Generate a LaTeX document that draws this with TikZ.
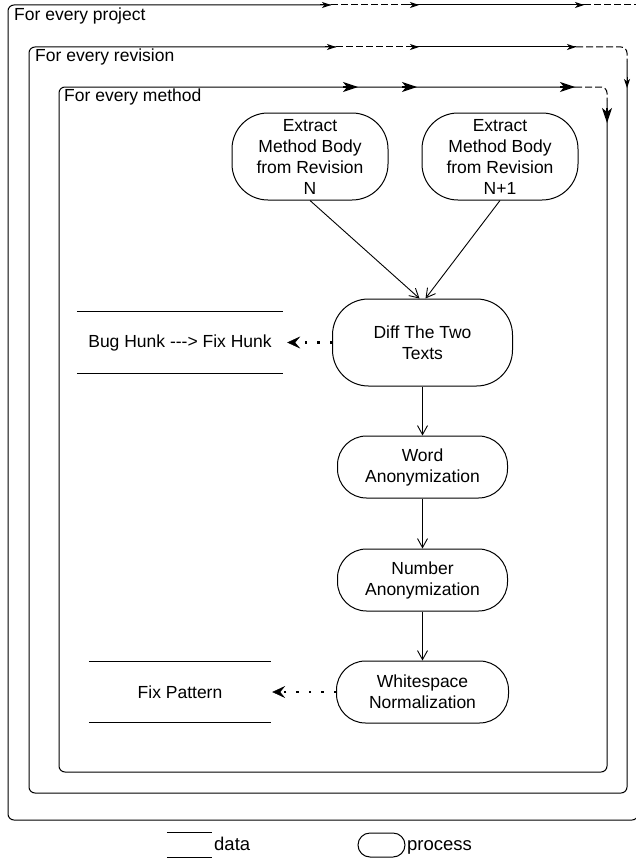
\documentclass[tikz,border=0pt]{standalone}
\usepackage{fontspec}
\setmainfont{Liberation Sans}
\usetikzlibrary{arrows.meta}
\begin{document}
\begin{tikzpicture}[x=1pt,y=-1pt,
  every node/.style={font=\fontsize{17.5}{21}\selectfont, inner sep=0pt},
  proc/.style={draw, line width=1pt, rounded corners=29pt, align=center},
  tallproc/.style={proc, rounded corners=36pt},
  frame/.style={line width=1pt, rounded corners=6pt},
  sol/.style={line width=1pt},
  dsh/.style={line width=1pt, dash pattern=on 7pt off 3pt},
  flow/.style={line width=0.9pt, -{Straight Barb[length=9pt,width=10pt]}},
  dotarr/.style={line width=2.4pt, dash pattern=on 2.4pt off 10pt, -{Stealth[length=13pt,width=12pt,inset=5pt,line width=0.5pt]}},
  tipS/.style={line width=1pt, -{Stealth[length=9pt,width=6pt,inset=2.5pt]}},
  tipB/.style={line width=1.3pt, -{Stealth[length=15pt,width=10pt,inset=4pt]}},
]
\useasboundingbox (0,0) rectangle (636,859);

% ---- project frame
\draw[frame] (331,5) -| (8,820) -| (638,5);
\draw[dsh] (331,5) -- (412,5);
\draw[sol] (412,5) -- (584,5);
\draw[dsh] (584,5) -- (638,5);
\draw[tipS] (320,5) -- (331,5);
\draw[tipS] (408,5) -- (419,5);
\draw[tipS] (573,5) -- (584,5);
\node[anchor=base west] (lp) at (14,21) {For every project};

% ---- revision frame
\draw[frame] (336,47) -| (29,793) -| (627,62);
\draw[dsh] (336,47) -- (413,47);
\draw[sol] (413,47) -- (576,47);
\draw[dsh, rounded corners=6pt] (576,47) -| (627,62);
\draw[tipS] (325,47) -- (336,47);
\draw[tipS] (408,47) -- (419,47);
\draw[tipS] (565,47) -- (576,47);
\draw[tipS] (627,77) -- (627,88);
\node[anchor=base west] (lr) at (35,62) {For every revision};

% ---- method frame
\draw[frame] (575,87) -| (59,772) -| (607,100);
\draw[dsh, rounded corners=6pt] (575,87) -| (607,100);
\draw[tipB] (343,87) -- (358,87);
\draw[tipB] (402,87) -- (417,87);
\draw[tipB] (560,87) -- (575,87);
\draw[tipB] (607,108) -- (607,123);
\node[anchor=base west] (lm) at (64,101) {For every method};

% ---- process nodes
\node[tallproc, minimum width=156pt, minimum height=87pt] (exN) at (310,156.5) {Extract\\Method Body\\from Revision\\N};
\node[tallproc, minimum width=156pt, minimum height=87pt] (exN1) at (500,156.5) {Extract\\Method Body\\from Revision\\N+1};
\node[tallproc, minimum width=180pt, minimum height=87pt] (diff) at (422.5,342.5) {Diff The Two\\Texts};
\node[proc, minimum width=170pt, minimum height=62pt] (word) at (422.5,467) {Word\\Anonymization};
\node[proc, minimum width=170pt, minimum height=62pt] (num) at (422.5,580) {Number\\Anonymization};
\node[proc, minimum width=172pt, minimum height=62pt] (white) at (422.5,692) {Whitespace\\Normalization};

% ---- data nodes
\node[minimum width=206pt, minimum height=61pt] (bug) at (180,342.5) {Bug Hunk -{}-{}-> Fix Hunk};
\draw[sol] (bug.north west) -- (bug.north east);
\draw[sol] (bug.south west) -- (bug.south east);
\node[minimum width=182pt, minimum height=60pt] (fix) at (180,692) {Fix Pattern};
\draw[sol] (fix.north west) -- (fix.north east);
\draw[sol] (fix.south west) -- (fix.south east);

% ---- connectors
\draw[flow] (exN.south) -- ([xshift=-3pt]diff.north);
\draw[flow] (exN1.south) -- ([xshift=3pt]diff.north);
\draw[flow] (diff.south) -- (word.north);
\draw[flow] (word.south) -- (num.north);
\draw[flow] (num.south) -- (white.north);
\draw[dotarr, shorten >=4pt] (diff.west) -- (bug.east);
\draw[dotarr, shorten >=1pt] (white.west) -- (fix.east);

% ---- legend
\node[minimum width=45pt, minimum height=24pt] (legd) at (189.5,845) {};
\draw[sol] (legd.north west) -- (legd.north east);
\draw[sol] (legd.south west) -- (legd.south east);
\node[anchor=base west, font=\fontsize{18.5}{21}\selectfont] (legdt) at (214,850) {data};
\node[draw, line width=1pt, rounded corners=12pt, minimum width=47pt, minimum height=24pt] (legp) at (381.5,845) {};
\node[anchor=base west, font=\fontsize{18.5}{21}\selectfont] (legpt) at (407,850) {process};
\end{tikzpicture}
\end{document}
